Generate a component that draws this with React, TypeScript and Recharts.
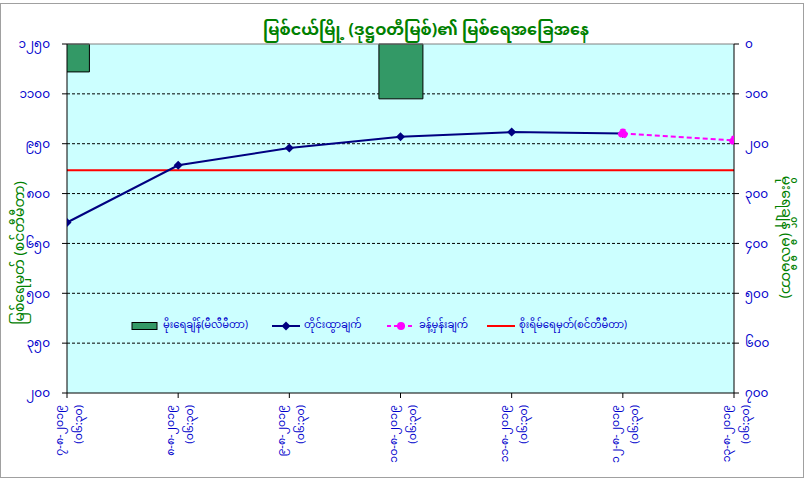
import React from 'react';
import {
  ComposedChart,
  Bar,
  Line,
  XAxis,
  YAxis,
  CartesianGrid,
  ReferenceLine,
  Label,
} from 'recharts';

const dates = ['၇-၈-၂၀၁၉', '၈-၈-၂၀၁၉', '၉-၈-၂၀၁၉', '၁၀-၈-၂၀၁၉', '၁၁-၈-၂၀၁၉', '၁၂-၈-၂၀၁၉', '၁၃-၈-၂၀၁၉'];
const times = ['(၀၆:၃၀)', '(၀၆:၃၀)', '(၀၆:၃၀)', '(၀၆:၃၀)', '(၀၆:၃၀)', '(၀၆:၃၀)', '(၀၆:၃၀)'];
const rainfall = [56, null, null, 110, null, null, null];
const observed = [713, 885, 937, 971, 985, 981, null];
const forecast = [null, null, null, null, null, 981, 960];
const danger = [870, 870, 870, 870, 870, 870, 870];
const levelTicks = [200, 350, 500, 650, 800, 950, 1100, 1250];
const rainTicks = [0, 100, 200, 300, 400, 500, 600, 700];

const data = dates.map((d, i) => ({
  idx: i,
  rain: rainfall[i],
  observed: observed[i],
  forecast: forecast[i],
  danger: danger[i],
}));

const MM_DIGITS = '၀၁၂၃၄၅၆၇၈၉';
const toMM = (v: number) => String(v).replace(/[0-9]/g, (c) => MM_DIGITS[Number(c)]);

const FONT = '"Noto Sans Myanmar", "Myanmar Text", "Padauk", "DejaVu Sans", sans-serif';
const BLUE = '#0000CC';
const GREEN = '#008000';

const DateTick = (props: any) => {
  const { x, y, payload } = props;
  const i = payload.value;
  return (
    <g transform={`translate(${x},${y + 5})`}>
      <text transform="rotate(-90)" x={0} y={-4} textAnchor="end" fill={BLUE} fontSize={11} fontFamily={FONT}>
        {dates[i]}
      </text>
      <text transform="rotate(-90)" x={0} y={15} textAnchor="end" fill={BLUE} fontSize={11} fontFamily={FONT}>
        {times[i]}
      </text>
    </g>
  );
};

const Diamond = (props: any) => {
  const { cx, cy } = props;
  if (cx == null || cy == null) return null;
  return <path d={`M${cx},${cy - 4.5}L${cx + 4.5},${cy}L${cx},${cy + 4.5}L${cx - 4.5},${cy}Z`} fill="#000080" />;
};

const legendItems = [
  { label: 'မိုးရေချိန်(မီလီမီတာ)', kind: 'bar', color: '#339966', left: 131 },
  { label: 'တိုင်းထွာချက်', kind: 'diamond', color: '#000080', left: 272 },
  { label: 'ခန့်မှန်းချက်', kind: 'dash', color: '#FF00FF', left: 387 },
  { label: 'စိုးရိမ်ရေမှတ်(စင်တီမီတာ)', kind: 'line', color: '#FF0000', left: 487 },
];

const ChartLegend = () => (
  <>
    {legendItems.map((it) => (
      <div
        key={it.label}
        style={{
          position: 'absolute',
          left: it.left,
          top: 315,
          display: 'flex',
          alignItems: 'center',
          fontFamily: FONT,
          fontSize: 10,
          color: BLUE,
          whiteSpace: 'nowrap',
        }}
      >
        <svg width={28} height={12} style={{ marginRight: 4 }}>
          {it.kind === 'bar' && <rect x={1} y={2.5} width={25} height={7} fill={it.color} stroke="#000" />}
          {it.kind === 'diamond' && (
            <>
              <line x1={0} y1={6} x2={28} y2={6} stroke={it.color} strokeWidth={2} />
              <path d="M14,1.5L18.5,6L14,10.5L9.5,6Z" fill={it.color} />
            </>
          )}
          {it.kind === 'dash' && (
            <>
              <line x1={0} y1={6} x2={28} y2={6} stroke={it.color} strokeWidth={2} strokeDasharray="4 3" />
              <circle cx={14} cy={6} r={4} fill={it.color} />
            </>
          )}
          {it.kind === 'line' && <line x1={0} y1={6} x2={28} y2={6} stroke={it.color} strokeWidth={2} />}
        </svg>
        <span>{it.label}</span>
      </div>
    ))}
  </>
);

const App = () => {
  return (
    <div style={{ position: 'absolute', left: 0, top: 0, width: 807, height: 483, background: '#fff' }}>
      <div
        style={{
          position: 'absolute',
          left: 0,
          top: 3,
          width: 804,
          height: 475,
          border: '1px solid #a0a0a0',
          boxSizing: 'border-box',
        }}
      />
      <div
        style={{
          position: 'absolute',
          left: 0,
          top: 14,
          width: 852,
          textAlign: 'center',
          color: GREEN,
          fontFamily: FONT,
          fontSize: 16,
          fontWeight: 'bold',
        }}
      >
        မြစ်ငယ်မြို့ (ဒုဋ္ဌဝတီမြစ်)၏ မြစ်ရေအခြေအနေ
      </div>
      <ComposedChart
        width={807}
        height={483}
        data={data}
        margin={{ top: 44, right: 0, bottom: 0, left: 0 }}
        style={{ position: 'absolute', left: 0, top: 0 }}
      >
        <CartesianGrid
          yAxisId="left"
          vertical={false}
          horizontal
          stroke="#000"
          strokeDasharray="3 2"
          fill="#CCFFFF"
          fillOpacity={1}
          horizontalValues={[350, 500, 650, 800, 950, 1100]}
        />
        <ReferenceLine yAxisId="left" y={1250} stroke="#808080" strokeWidth={1} />
        <XAxis
          dataKey="idx"
          type="number"
          domain={[0, 6]}
          ticks={[0, 1, 2, 3, 4, 5, 6]}
          allowDataOverflow
          height={90}
          stroke="#000"
          tickSize={5}
          tick={<DateTick />}
          interval={0}
        />
        <YAxis
          yAxisId="left"
          orientation="left"
          width={67}
          domain={[200, 1250]}
          ticks={levelTicks}
          interval={0}
          stroke="#000"
          tickSize={5}
          tickMargin={12}
          tickFormatter={toMM}
          tick={{ fill: BLUE, fontSize: 12, fontFamily: FONT }}
        >
          <Label
            content={() => (
              <text
                transform="translate(24,253) rotate(-90)"
                textAnchor="middle"
                fill={GREEN}
                fontSize={14}
                fontFamily={FONT}
              >
                မြစ်ရေမှတ် (စင်တီမီတာ)
              </text>
            )}
          />
        </YAxis>
        <YAxis
          yAxisId="right"
          orientation="right"
          width={73}
          domain={[0, 700]}
          reversed
          ticks={rainTicks}
          interval={0}
          stroke="#000"
          tickSize={5}
          tickMargin={6}
          tickFormatter={toMM}
          tick={{ fill: BLUE, fontSize: 12, fontFamily: FONT, textAnchor: 'start' }}
        >
          <Label
            content={() => (
              <text
                transform="translate(782,237) rotate(90)"
                textAnchor="middle"
                fill={GREEN}
                fontSize={14}
                fontFamily={FONT}
              >
                မိုးရေချိန် (မီလီမီတာ)
              </text>
            )}
          />
        </YAxis>
        <Bar
          yAxisId="right"
          dataKey="rain"
          barSize={44}
          fill="#339966"
          stroke="#000"
          strokeWidth={1}
          isAnimationActive={false}
        />
        <Line
          yAxisId="left"
          dataKey="danger"
          stroke="#FF0000"
          strokeWidth={2}
          dot={false}
          activeDot={false}
          isAnimationActive={false}
        />
        <Line
          yAxisId="left"
          dataKey="observed"
          stroke="#000080"
          strokeWidth={2}
          dot={<Diamond />}
          activeDot={false}
          isAnimationActive={false}
        />
        <Line
          yAxisId="left"
          dataKey="forecast"
          stroke="#FF00FF"
          strokeWidth={2}
          strokeDasharray="5 3"
          dot={{ r: 4, fill: '#FF00FF', stroke: '#FF00FF' }}
          activeDot={false}
          isAnimationActive={false}
        />
      </ComposedChart>
      <ChartLegend />
    </div>
  );
};

export default App;
